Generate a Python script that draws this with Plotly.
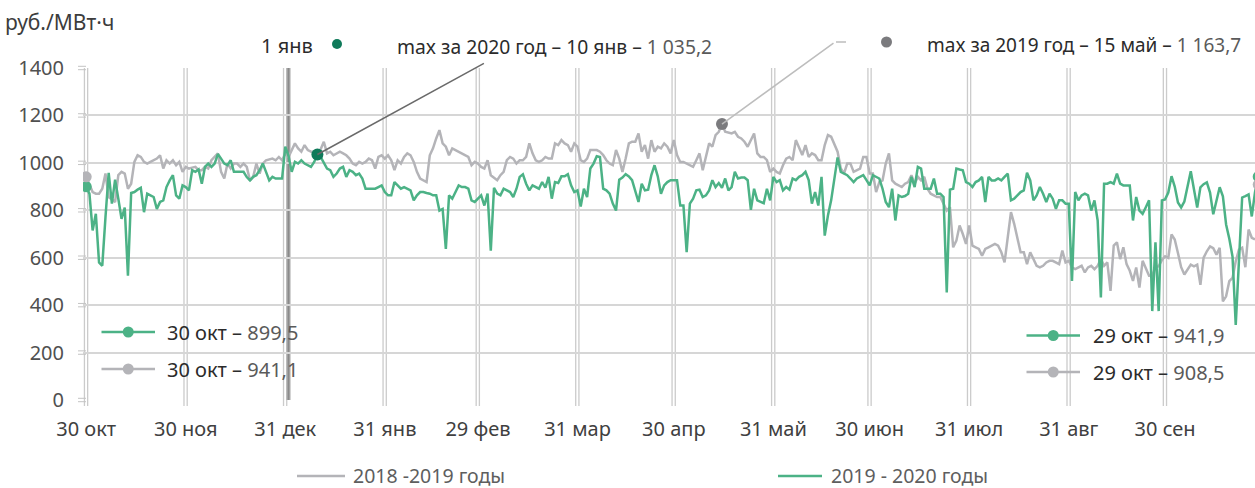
import plotly.graph_objects as go
import pandas as pd

# ---------------- data ----------------
START_DATE = "2019-10-30"
tick_dates = ["2019-10-30", "2019-11-30", "2019-12-31", "2020-01-31", "2020-02-29", "2020-03-31",
              "2020-04-30", "2020-05-31", "2020-06-30", "2020-07-31", "2020-08-31", "2020-09-30"]
tick_labels = ["30 окт", "30 ноя", "31 дек", "31 янв", "29 фев", "31 мар",
               "30 апр", "31 май", "30 июн", "31 июл", "31 авг", "30 сен"]
y_tick_values = [0, 200, 400, 600, 800, 1000, 1200, 1400]
month_short = ["янв", "фев", "мар", "апр", "май", "июн", "июл", "авг", "сен", "окт", "ноя", "дек"]

# 2019-2020, daily from 30 Oct 2019 to 29 Oct 2020 (руб./МВт·ч)
series_2019_2020 = [
    899.5, 870, 715, 785, 580, 566, 771, 958, 828, 929,
    849, 764, 811, 524, 873, 877, 887, 895, 792, 870,
    863, 856, 806, 835, 842, 898, 926, 948, 863, 849,
    905, 898, 884, 969, 962, 972, 912, 983, 997, 983,
    997, 1037, 1018, 997, 990, 1011, 962, 962, 965, 962,
    940, 926, 941, 948, 969, 997, 962, 926, 941, 934,
    934, 934, 1068, 1030, 962, 1004, 997, 1011, 997, 990,
    983, 1004, 1035.2, 1025, 997, 976, 969, 941, 955, 976,
    983, 941, 969, 962, 948, 955, 934, 891, 891, 891,
    891, 898, 905, 877, 863, 863, 919, 905, 891, 898,
    891, 884, 842, 863, 877, 877, 873, 870, 863, 863,
    799, 806, 637, 863, 849, 877, 905, 898, 898, 891,
    842, 835, 849, 863, 820, 870, 630, 895, 870, 863,
    891, 884, 877, 856, 891, 941, 952, 912, 884, 905,
    898, 891, 919, 895, 941, 849, 919, 915, 943, 943,
    952, 905, 877, 884, 816, 891, 856, 976, 997, 1028,
    1025, 891, 884, 870, 828, 799, 929, 938, 952, 943,
    927, 884, 835, 912, 884, 887, 948, 990, 943, 870,
    905, 919, 927, 927, 927, 820, 820, 623, 828, 849,
    884, 887, 856, 863, 884, 927, 898, 915, 895, 934,
    884, 898, 962, 934, 938, 938, 927, 802, 891, 842,
    836, 830, 891, 842, 941, 919, 927, 884, 898, 887,
    934, 927, 941, 948, 962, 927, 828, 877, 820, 941,
    693, 778, 842, 927, 1023, 962, 955, 948, 934, 919,
    934, 941, 948, 927, 905, 948, 941, 934, 891, 835,
    813, 891, 757, 863, 856, 860, 870, 941, 898, 983,
    976, 891, 891, 891, 934, 870, 870, 856, 453, 887,
    891, 976, 972, 969, 919, 912, 898, 919, 926, 941,
    835, 941, 926, 926, 934, 926, 941, 955, 842, 849,
    863, 877, 884, 958, 926, 842, 863, 898, 870, 835,
    870, 849, 806, 842, 842, 828, 828, 502, 877, 842,
    863, 870, 863, 799, 842, 757, 432, 912, 912, 919,
    912, 955, 912, 905, 905, 905, 757, 856, 799, 785,
    813, 842, 375, 665, 375, 842, 846, 875, 944, 900,
    833, 812, 837, 900, 965, 888, 812, 897, 910, 918,
    875, 783, 840, 897, 859, 740, 680, 605, 317, 605,
    854, 860, 867, 774, 876, 941.9,
]

# 2018-2019, daily from 30 Oct 2018 (aligned on the same day-of-period axis)
series_2018_2019 = [
    941.1, 905, 877, 870, 870, 891, 955, 856, 845, 835,
    948, 962, 955, 891, 912, 1004, 1032, 1025, 1004, 997,
    1004, 1011, 1018, 1032, 976, 1011, 997, 1011, 990, 1004,
    962, 983, 976, 980, 983, 969, 969, 983, 976, 1011,
    1025, 1040, 962, 934, 997, 976, 997, 997, 983, 997,
    983, 926, 941, 997, 955, 997, 1011, 1016, 1018, 1011,
    1025, 1011, 1040, 1025, 1054, 1082, 1061, 1047, 1075, 1054,
    1047, 1040, 1025, 1054, 1089, 1040, 1047, 1032, 1040, 1047,
    1040, 1032, 1018, 997, 990, 1004, 997, 1004, 1018, 1011,
    976, 1025, 1032, 1018, 1032, 1011, 969, 1011, 997, 1025,
    1040, 1032, 1004, 962, 934, 926, 919, 1032, 1061, 1103,
    1138, 1082, 1068, 1032, 1061, 1054, 1047, 1040, 1033, 1025,
    990, 1004, 997, 983, 976, 1011, 948, 938, 927, 948,
    962, 1011, 1025, 1018, 997, 1011, 1011, 1025, 1082, 1040,
    1011, 1004, 1011, 1025, 1018, 1018, 1082, 1075, 1096, 1082,
    1075, 1047, 1082, 1068, 1011, 1004, 1018, 1054, 1054, 1054,
    1047, 1033, 1011, 997, 990, 1054, 1018, 962, 1018, 1082,
    1089, 1089, 1124, 1047, 1075, 1018, 1096, 1047, 1068, 1061,
    1082, 1068, 1040, 1096, 1033, 1004, 1004, 997, 990, 983,
    1011, 1040, 969, 1033, 1082, 1068, 1117, 1131, 1163.7, 1131,
    1128, 1124, 1131, 1110, 1103, 1089, 1068, 1096, 1124, 1040,
    1025, 1025, 1011, 962, 976, 962, 955, 990, 1018, 1025,
    1011, 1096, 1068, 1033, 1075, 1025, 1040, 1033, 1011, 1011,
    1075, 1117, 1110, 1082, 1047, 976, 955, 997, 997, 962,
    969, 976, 1025, 1025, 955, 955, 877, 919, 926, 997,
    1040, 926, 912, 905, 898, 912, 919, 948, 912, 941,
    926, 941, 891, 870, 863, 856, 856, 828, 799, 813,
    644, 672, 736, 700, 658, 736, 651, 644, 637, 608,
    637, 644, 651, 658, 651, 623, 580, 686, 792, 743,
    686, 623, 623, 573, 623, 594, 566, 559, 566, 580,
    587, 587, 580, 573, 630, 580, 587, 559, 552, 559,
    566, 538, 559, 566, 552, 566, 594, 566, 580, 460,
    651, 665, 594, 644, 573, 545, 502, 559, 474, 587,
    559, 524, 525, 560, 564, 590, 606, 599, 698, 677,
    620, 560, 529, 550, 571, 564, 571, 486, 600, 627,
    648, 640, 613, 642, 416, 437, 501, 515, 585, 634,
    642, 560, 719, 684, 677,
]
last_2018_2019 = 908.5

# ---------------- styling ----------------
GREEN = "#4cb286"
GRAY = "#b4b4b8"
DARK_GREEN = "#0f7a5a"
DARK_GRAY = "#7b7b7e"
GRID = "#d6d6d6"
VGRID = "#cbcbcb"
FONT = "Noto Sans"
TXT = "#2b2b2b"
TXT_LIGHT = "#5a5a5a"
FS = 20

W, H = 1255, 488
L, R, T, B = 83, 0, 68, 88
PW, PH = W - L - R, H - T - B


def px(x):
    return (x - L) / PW


def py(y):
    return (H - B - y) / PH


def fmt(v):
    return f"{v:,.1f}".replace(",", " ").replace(".", ",")


def day_label(d):
    return f"{d.day} {month_short[d.month - 1]}"


dates = pd.date_range(START_DATE, periods=len(series_2019_2020), freq="D")
dates_gray = dates[:len(series_2018_2019)]
last_date = dates[-1]
new_year = pd.Timestamp("2020-01-01")

# maxima within the calendar year (from 1 Jan)
g_idx = [i for i, d in enumerate(dates) if d >= new_year]
g_max_i = max(g_idx, key=lambda i: series_2019_2020[i])
s_idx = [i for i, d in enumerate(dates_gray) if d >= new_year]
s_max_i = max(s_idx, key=lambda i: series_2018_2019[i])
g_max_d, g_max_v = dates[g_max_i], series_2019_2020[g_max_i]
s_max_d, s_max_v = dates_gray[s_max_i], series_2018_2019[s_max_i]

fig = go.Figure()

fig.add_trace(go.Scatter(x=dates_gray, y=series_2018_2019, mode="lines",
                         line=dict(color=GRAY, width=2.5), showlegend=False, hoverinfo="skip"))
fig.add_trace(go.Scatter(x=dates, y=series_2019_2020, mode="lines",
                         line=dict(color=GREEN, width=2.5), showlegend=False, hoverinfo="skip"))
# start / end dots
fig.add_trace(go.Scatter(x=[dates[0]], y=[series_2019_2020[0]], mode="markers",
                         marker=dict(color=GREEN, size=11), showlegend=False, hoverinfo="skip"))
fig.add_trace(go.Scatter(x=[dates_gray[0]], y=[series_2018_2019[0]], mode="markers",
                         marker=dict(color=GRAY, size=11), showlegend=False, hoverinfo="skip"))
fig.add_trace(go.Scatter(x=[last_date], y=[series_2019_2020[-1]], mode="markers",
                         marker=dict(color=GREEN, size=11), showlegend=False, hoverinfo="skip"))
fig.add_trace(go.Scatter(x=[last_date], y=[last_2018_2019], mode="markers",
                         marker=dict(color=GRAY, size=11), showlegend=False, hoverinfo="skip"))
# max dots
fig.add_trace(go.Scatter(x=[g_max_d], y=[g_max_v], mode="markers",
                         marker=dict(color=DARK_GREEN, size=12), showlegend=False, hoverinfo="skip"))
fig.add_trace(go.Scatter(x=[s_max_d], y=[s_max_v], mode="markers",
                         marker=dict(color=DARK_GRAY, size=12), showlegend=False, hoverinfo="skip"))

shapes = []
# doubled vertical grid lines
for td in tick_dates:
    t = pd.Timestamp(td)
    for off in (-0.55, 0.45):
        xx = t + pd.Timedelta(days=off)
        shapes.append(dict(type="line", xref="x", yref="paper", x0=xx, x1=xx, y0=-0.018, y1=1,
                           line=dict(color=VGRID, width=1.3), layer="below"))
# 1 Jan thick line
shapes.append(dict(type="line", xref="x", yref="paper", x0=new_year, x1=new_year, y0=0, y1=1,
                   line=dict(color="#a8a8a8", width=4), layer="below"))
shapes.append(dict(type="line", xref="x", yref="paper", x0=new_year, x1=new_year, y0=0, y1=1,
                   line=dict(color="#8a8a8a", width=1.5), layer="below"))
# double tick marks on the y axis
for v in y_tick_values:
    for dy in (-1.7, 1.7):
        yy = v / 1400 + dy / PH
        shapes.append(dict(type="line", xref="paper", yref="paper", x0=px(78), x1=px(86),
                           y0=yy, y1=yy, line=dict(color="#c4c4c4", width=1)))
# leader line tail for 2019 max
shapes.append(dict(type="line", xref="paper", yref="paper", x0=px(836), x1=px(846),
                   y0=py(42), y1=py(42), line=dict(color="#bdbdbd", width=1.5)))


def circle(xp, yp, r, color):
    return dict(type="circle", xref="paper", yref="paper", xsizemode="pixel", ysizemode="pixel",
                xanchor=px(xp), yanchor=py(yp), x0=-r, x1=r, y0=-r, y1=r,
                fillcolor=color, line=dict(width=0))


def legend_line(x0, x1, y, color, dot=True):
    out = [dict(type="line", xref="paper", yref="paper", x0=px(x0), x1=px(x1), y0=py(y), y1=py(y),
                line=dict(color=color, width=2.5))]
    if dot:
        out.append(circle((x0 + x1) / 2, y, 5.5, color))
    return out


shapes.append(circle(337, 44, 5, DARK_GREEN))
shapes.append(circle(886.5, 42, 5.5, DARK_GRAY))
shapes += legend_line(101.5, 155, 332, GREEN)
shapes += legend_line(101.5, 155, 369, GRAY)
shapes += legend_line(1026.5, 1080, 335.5, GREEN)
shapes += legend_line(1026.5, 1080, 372, GRAY)
shapes += legend_line(297, 345, 476, GRAY, dot=False)
shapes += legend_line(778, 822, 476, GREEN, dot=False)

ann = []


def text(xp, yp, s, anchor="left", size=FS, color=TXT):
    ann.append(dict(xref="paper", yref="paper", x=px(xp), y=py(yp), text=s, showarrow=False,
                    xanchor=anchor, yanchor="middle", borderpad=0,
                    font=dict(family=FONT, size=size, color=color)))


text(4, 22, "руб./МВт·ч", size=21, color="#3c3c3c")
text(314, 45, "1 янв", anchor="right")
text(396, 46, f"max за 2020 год – {day_label(g_max_d)} – "
              f"<span style='color:{TXT_LIGHT}'>{fmt(g_max_v)}</span>", size=19.3)
text(926, 45, f"max за 2019 год – {day_label(s_max_d)} – "
              f"<span style='color:{TXT_LIGHT}'>{fmt(s_max_v)}</span>", size=19)
text(166, 332, f"{day_label(dates[0])} – <span style='color:{TXT_LIGHT}'>{fmt(series_2019_2020[0])}</span>")
text(166, 369, f"{day_label(dates[0])} – <span style='color:{TXT_LIGHT}'>{fmt(series_2018_2019[0])}</span>")
text(1091.5, 335.5, f"{day_label(last_date)} – <span style='color:{TXT_LIGHT}'>{fmt(series_2019_2020[-1])}</span>")
text(1091.5, 372, f"{day_label(last_date)} – <span style='color:{TXT_LIGHT}'>{fmt(last_2018_2019)}</span>")
text(352, 475, "2018 -2019 годы", size=19.5, color="#5e5e5e")
text(830, 475, "2019 - 2020 годы", size=19.5, color="#5e5e5e")

# leader lines to the maxima
ann.append(dict(x=g_max_d, y=g_max_v, xref="x", yref="y", text="", showarrow=True, arrowhead=0,
                ax=168, ay=-92, arrowcolor="#6a6a6a", arrowwidth=1.5, standoff=0))
ann.append(dict(x=s_max_d, y=s_max_v, xref="x", yref="y", text="", showarrow=True, arrowhead=0,
                ax=113, ay=-82, arrowcolor="#bdbdbd", arrowwidth=1.5, standoff=0))

fig.update_layout(
    width=W, height=H,
    margin=dict(l=L, r=R, t=T, b=B, pad=0),
    paper_bgcolor="white", plot_bgcolor="white",
    showlegend=False,
    font=dict(family=FONT, size=FS, color=TXT_LIGHT),
    shapes=shapes, annotations=ann,
    xaxis=dict(
        type="date",
        range=[pd.Timestamp(START_DATE) - pd.Timedelta(days=1),
               pd.Timestamp(START_DATE) + pd.Timedelta(days=364)],
        tickvals=tick_dates, ticktext=tick_labels,
        showgrid=False, zeroline=False, showline=False, ticks="",
        ticklabelstandoff=15,
        tickfont=dict(family=FONT, size=FS, color="#404040"),
        fixedrange=True,
    ),
    yaxis=dict(
        range=[0, 1400], tickvals=y_tick_values,
        showgrid=True, gridcolor=GRID, gridwidth=1.5,
        zeroline=False, showline=False, ticks="",
        ticklabelstandoff=18,
        tickfont=dict(family=FONT, size=FS, color="#505050"),
        fixedrange=True,
    ),
)

fig.write_html("out.html", config={"displayModeBar": False},
               post_script="document.body.style.margin='0px';")
